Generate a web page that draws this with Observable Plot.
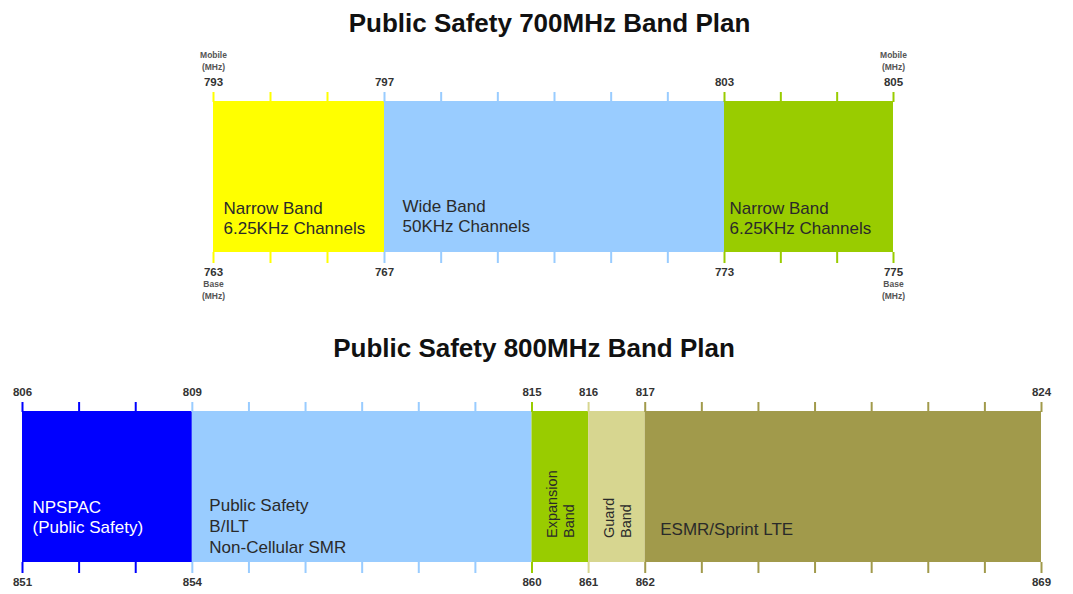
<!DOCTYPE html>
<html><head><meta charset="utf-8">
<script src="https://cdn.jsdelivr.net/npm/d3@7"></script>
<script src="https://cdn.jsdelivr.net/npm/@observablehq/plot@0.6"></script>
<style>
html,body{margin:0;padding:0;background:#fff;}
#page{position:relative;width:1073px;height:594px;overflow:hidden;font-family:"Liberation Sans",Arial,sans-serif;}
.title{position:absolute;transform:translateX(-50%);font-weight:bold;font-size:26px;line-height:30px;white-space:nowrap;color:#111;}
.chart{position:absolute;left:0;}
</style></head><body><div id="page"></div>
<script>
// ---------- data ----------
const titles = ["Public Safety 700MHz Band Plan", "Public Safety 800MHz Band Plan"];

const plan700Edges = [793, 797, 803, 805];          // mobile MHz
const plan700Base = [763, 767, 773, 775];           // base MHz
const plan700Labels = ["Narrow Band\n6.25KHz Channels", "Wide Band\n50KHz Channels", "Narrow Band\n6.25KHz Channels"];
const plan700Divisions = [3, 6, 3];                 // tick intervals per segment

const plan800Edges = [806, 809, 815, 816, 817, 824];
const plan800Base = [851, 854, 860, 861, 862, 869];
const plan800Labels = ["NPSPAC\n(Public Safety)", "Public Safety\nB/ILT\nNon-Cellular SMR", "Expansion\nBand", "Guard\nBand", "ESMR/Sprint LTE"];
const plan800Divisions = [3, 6, 1, 1, 7];

const unitTop = "Mobile\n(MHz)";
const unitBottom = "Base\n(MHz)";

// ---------- styles ----------
const colors700 = ["#FFFF00", "#99CCFF", "#99CC00"];
const colors800 = ["#0000FF", "#99CCFF", "#99CC00", "#D7D690", "#A19A4B"];
const FONT = "'Liberation Sans', Arial, sans-serif";

function bandsOf(edges, labels) {
  return labels.map((label, i) => ({i, start: edges[i], end: edges[i + 1], mid: (edges[i] + edges[i + 1]) / 2, label}));
}
function minorTicks(edges, divisions) {
  const t = [];
  divisions.forEach((n, i) => { for (let k = 0; k < n; ++k) t.push(edges[i] + (edges[i + 1] - edges[i]) * k / n); });
  t.push(edges[edges.length - 1]);
  return t;
}
function segmentOf(edges, v) {
  for (let i = edges.length - 2; i >= 0; --i) if (v >= edges[i] - 1e-9) return i;
  return 0;
}

function bandChart({edges, base, labels, divisions, colors, xDomain, xRange, height, marginTop, marginBottom, units, layout}) {
  const bands = bandsOf(edges, labels);
  const ticks = minorTicks(edges, divisions);
  const stroke = d => segmentOf(edges, d);
  const marks = [
    Plot.rect(bands, {x1: "start", x2: "end", fill: "i"}),
    Plot.axisX(ticks, {anchor: "top", tickSize: 10, stroke, strokeWidth: 2, fill: "none", label: null}),
    Plot.axisX(ticks, {anchor: "bottom", tickSize: 11, stroke, strokeWidth: 2, fill: "none", label: null}),
    Plot.axisX(edges, {anchor: "top", tickSize: 0, stroke: "none", tickPadding: 16, fontSize: 11.5, fontWeight: "bold", fill: "#333", label: null, tickFormat: d => String(d)}),
    Plot.axisX(edges, {anchor: "bottom", tickSize: 0, stroke: "none", tickPadding: 15, fontSize: 11.5, fontWeight: "bold", fill: "#333", label: null, tickFormat: d => String(base[edges.indexOf(d)])})
  ];
  if (units) {
    const ends = [edges[0], edges[edges.length - 1]];
    marks.push(Plot.text(ends, {x: d => d, text: () => unitTop, frameAnchor: "top", lineAnchor: "bottom", dy: -32, fontSize: 8.5, lineHeight: 1.4, fontWeight: "bold", fill: "#555"}));
    marks.push(Plot.text(ends, {x: d => d, text: () => unitBottom, frameAnchor: "bottom", lineAnchor: "top", dy: 26, fontSize: 8.5, lineHeight: 1.4, fontWeight: "bold", fill: "#555"}));
  }
  bands.forEach((b, i) => {
    const L = layout[i];
    if (L.rotate) {
      marks.push(Plot.text([b], {x: "mid", text: "label", frameAnchor: "middle", rotate: -90, textAnchor: "start", lineAnchor: "middle", dy: L.dy, fontSize: 14.5, lineHeight: 1.17, fill: L.fill || "#2a2a2a"}));
    } else {
      marks.push(Plot.text([b], {x: "start", text: "label", frameAnchor: "middle", textAnchor: "start", lineAnchor: "middle", dx: L.dx, dy: L.dy, fontSize: 17, lineHeight: L.lh || 1.18, fill: L.fill || "#2a2a2a"}));
    }
  });
  return Plot.plot({
    width: 1073, height, marginTop, marginBottom, marginLeft: 0, marginRight: 0,
    style: {fontFamily: FONT, background: "transparent", overflow: "visible"},
    x: {type: "linear", domain: xDomain, range: xRange},
    color: {type: "ordinal", domain: d3.range(colors.length), range: colors},
    marks
  });
}

const page = document.getElementById("page");
function addTitle(text, cx, top) {
  const d = document.createElement("div");
  d.className = "title"; d.textContent = text;
  d.style.left = cx + "px"; d.style.top = top + "px";
  page.appendChild(d);
}
function addChart(svg, top) {
  svg.classList.add("chart");
  svg.style.top = top + "px";
  page.appendChild(svg);
}

addTitle(titles[0], 549.5, 8);
addChart(bandChart({
  edges: plan700Edges, base: plan700Base, labels: plan700Labels, divisions: plan700Divisions, colors: colors700,
  xDomain: plan700Edges, xRange: [213, 384, 724, 893], height: 270, marginTop: 61, marginBottom: 58, units: true,
  layout: [{dx: 10, dy: 41}, {dx: 18, dy: 39}, {dx: 5, dy: 41}]
}), 40);

addTitle(titles[1], 534, 333);
addChart(bandChart({
  edges: plan800Edges, base: plan800Base, labels: plan800Labels, divisions: plan800Divisions, colors: colors800,
  xDomain: d3.extent(plan800Edges), xRange: [22, 1041], height: 224, marginTop: 41, marginBottom: 32, units: false,
  layout: [{dx: 10, dy: 30, fill: "#fff", lh: 1.18}, {dx: 17, dy: 38, lh: 1.24}, {rotate: true, dy: 51}, {rotate: true, dy: 51}, {dx: 15, dy: 42}]
}), 370);
</script>
</body></html>
